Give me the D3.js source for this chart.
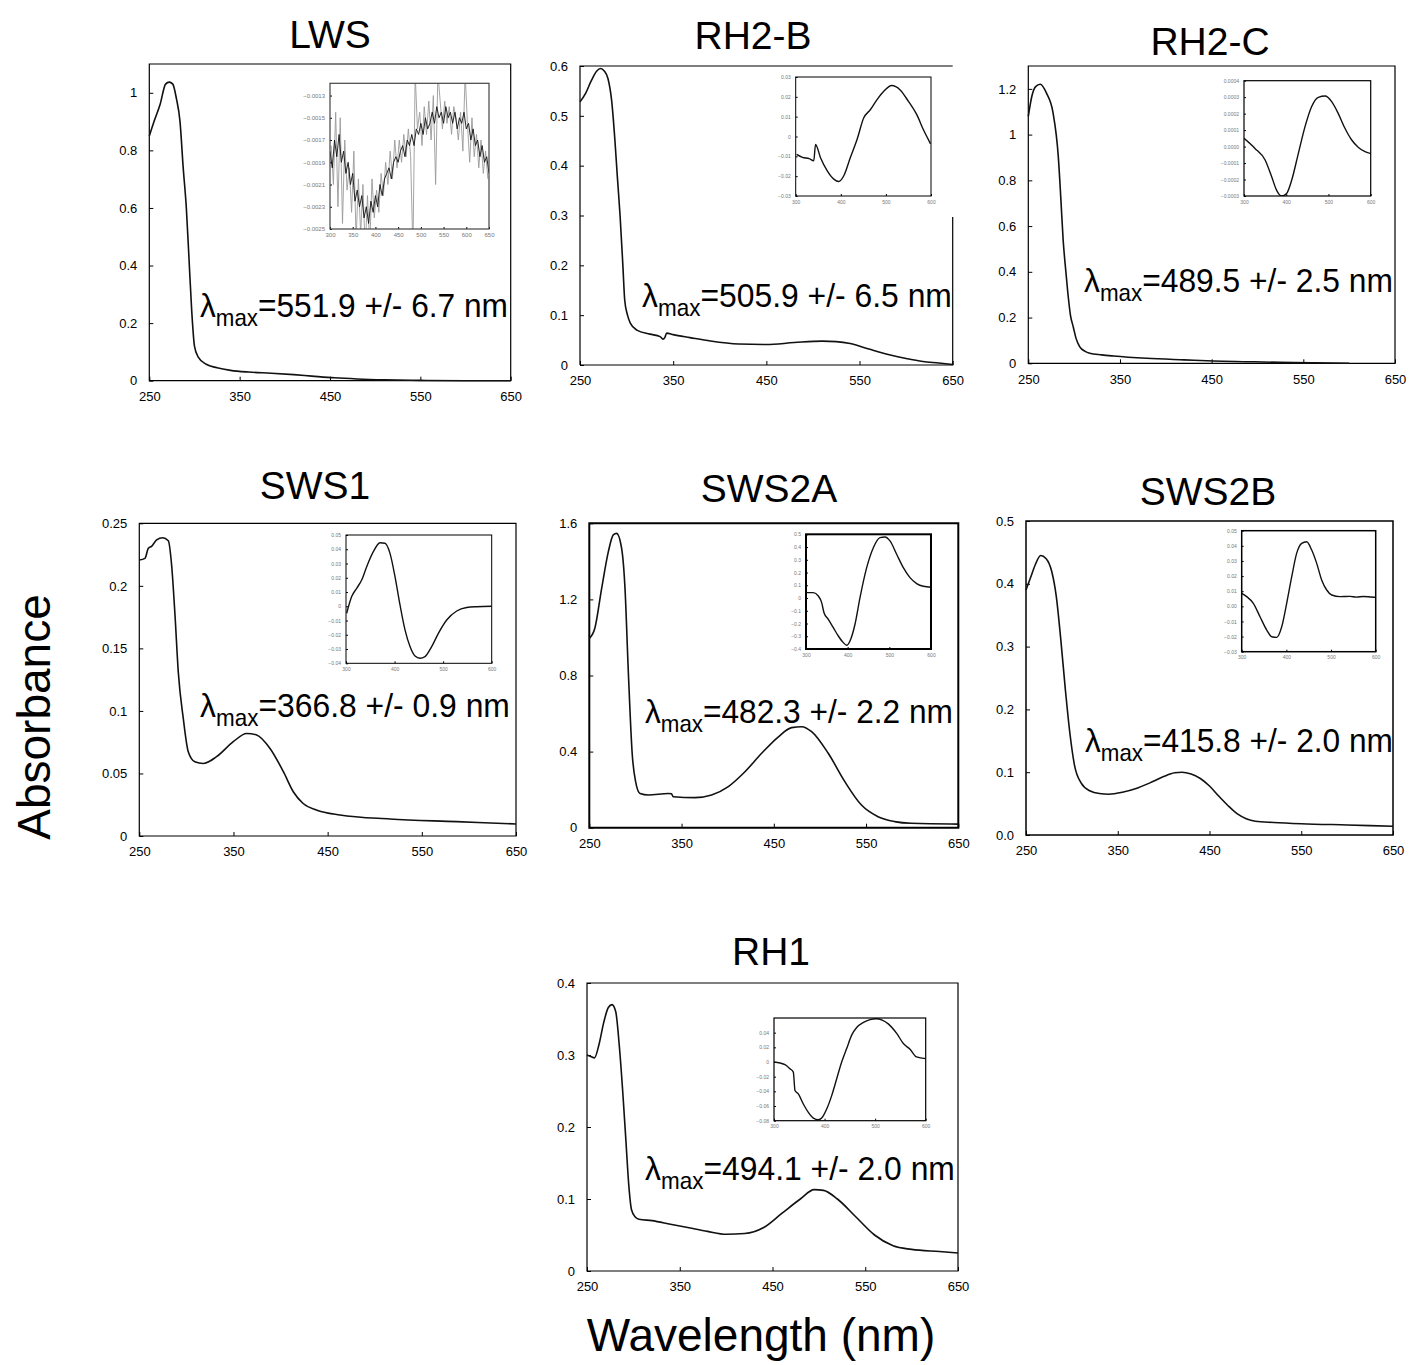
<!DOCTYPE html>
<html>
<head>
<meta charset="utf-8">
<script src="https://cdn.jsdelivr.net/npm/d3@7"></script>
<style>
body { margin: 0; background: #fff; }
text { font-family: "Liberation Sans", Arial, sans-serif; }
</style>
</head>
<body>
<svg id="chart" width="1414" height="1365"></svg>
<script>
// ---- spectra: [wavelength nm, absorbance] ----
var lwsMain = [[250,0.85],[256,0.907],[262,0.96],[268,1.03],[272,1.037],[276,1.03],[280,0.98],[284,0.9],[287.5,0.74],[291,0.6],[294,0.42],[297,0.24],[300,0.12],[304,0.083],[313,0.057],[325,0.045],[340,0.036],[360,0.03],[385,0.026],[410,0.021],[430,0.016],[455,0.01],[480,0.006],[510,0.003],[550,0.001],[600,0],[650,0]];
var rh2bMain = [[250,0.528],[256,0.545],[262,0.57],[268,0.59],[272,0.595],[276,0.59],[280,0.575],[284,0.53],[287.5,0.45],[290,0.38],[293,0.3],[296,0.2],[298,0.13],[301,0.1],[304,0.084],[311,0.07],[325,0.062],[336,0.057],[339,0.052],[341,0.055],[343,0.064],[350,0.061],[368,0.055],[390,0.048],[420,0.042],[450,0.041],[480,0.045],[510,0.048],[525,0.047],[540,0.043],[560,0.032],[583,0.02],[600,0.013],[618,0.007],[635,0.004],[650,0.001]];
var rh2cMain = [[250,1.08],[254,1.17],[258,1.21],[263,1.22],[270,1.18],[277,1.095],[282.7,0.905],[285.5,0.72],[288,0.54],[291,0.4],[293.6,0.29],[296,0.21],[299,0.16],[302,0.11],[306,0.073],[312,0.052],[317,0.044],[330,0.037],[343,0.032],[379,0.022],[420,0.015],[452,0.01],[490,0.007],[524.5,0.004],[560,0.002],[600,0]];
var sws1Main = [[250,0.2207],[256,0.222],[259.6,0.23],[263,0.2316],[268.4,0.2367],[274.8,0.2385],[280.8,0.236],[284.3,0.2167],[287.9,0.1767],[291.4,0.131],[296.7,0.094],[302,0.0674],[309,0.0594],[318,0.058],[332,0.0634],[349.8,0.0754],[364,0.082],[374.6,0.0808],[388.8,0.07],[403,0.0514],[413.5,0.0354],[424,0.026],[438,0.0208],[463,0.0168],[516,0.0136],[587,0.0115],[650,0.0096]];
var sws2aMain = [[250,0.995],[256,1.048],[263.4,1.258],[270.6,1.45],[276,1.539],[279.6,1.547],[285,1.469],[288.7,1.258],[292.3,0.82],[296.6,0.382],[300.2,0.242],[305,0.18],[314,0.172],[335.6,0.18],[339,0.178],[341,0.163],[364.5,0.158],[382.6,0.172],[400.7,0.216],[418.7,0.294],[436.8,0.391],[455,0.478],[469.3,0.526],[480.2,0.531],[491,0.505],[509,0.391],[527,0.242],[545,0.119],[563,0.058],[581,0.032],[599,0.023],[650,0.019]];
var sws2bMain = [[250,0.39],[255,0.41],[260,0.43],[266,0.445],[272,0.44],[278,0.42],[283,0.38],[288,0.31],[293,0.23],[298,0.16],[303,0.11],[310,0.083],[320,0.07],[330,0.066],[340,0.065],[355,0.068],[370,0.074],[385,0.083],[400,0.093],[412,0.099],[420,0.1],[430,0.097],[440,0.09],[450,0.078],[460,0.062],[470,0.047],[480,0.034],[490,0.026],[500,0.022],[520,0.02],[550,0.018],[600,0.016],[650,0.014]];
var rh1Main = [[250,0.3],[254,0.298],[258,0.296],[263,0.315],[268,0.345],[273,0.366],[277,0.37],[281,0.36],[285,0.31],[289,0.24],[292,0.18],[295,0.12],[298,0.085],[302,0.075],[306,0.072],[320,0.07],[340,0.065],[360,0.06],[380,0.055],[400,0.051],[420,0.052],[440,0.06],[460,0.08],[480,0.1],[495,0.113],[505,0.112],[520,0.1],[540,0.075],[560,0.05],[580,0.035],[600,0.03],[630,0.027],[650,0.025]];

// ---- inset difference spectra ----
var lwsDiffX = d3.range(300, 651, 5);
var lwsDiffBlack = [-18.0,-19.5,-17.0,-18.5,-16.5,-19.0,-18.0,-20.0,-19.0,-21.0,-20.0,-22.5,-21.5,-23.0,-22.0,-24.0,-23.0,-24.5,-22.5,-23.5,-22.0,-23.0,-21.0,-22.0,-20.5,-20.0,-19.5,-20.5,-19.0,-18.5,-19.0,-18.0,-17.5,-18.5,-17.0,-17.5,-16.5,-17.5,-16.0,-16.5,-15.5,-16.5,-15.0,-16.0,-15.5,-14.5,-15.5,-14.0,-15.0,-14.5,-15.5,-14.0,-15.0,-14.5,-15.5,-14.5,-16.0,-15.0,-15.5,-14.5,-16.0,-15.5,-17.0,-16.0,-17.5,-17.0,-18.5,-17.5,-19.0,-18.5,-20.0];
var lwsDiffGrayX = d3.range(302.5, 650, 5);
var lwsDiffGray = [-17.5,-21.0,-14.5,-23.0,-15.0,-24.5,-17.0,-21.5,-19.5,-23.5,-18.0,-26.0,-20.5,-25.5,-21.0,-27.0,-22.0,-26.5,-20.5,-24.0,-21.5,-23.5,-20.0,-22.0,-19.0,-21.0,-18.0,-20.5,-17.0,-19.5,-17.0,-19.0,-16.5,-18.5,-16.0,-18.5,-27.0,-11.0,-16.0,-14.5,-17.5,-14.0,-16.5,-13.5,-17.0,-13.0,-21.0,-11.0,-13.5,-16.0,-13.5,-15.5,-14.0,-16.5,-14.0,-15.0,-17.0,-14.5,-18.0,-11.0,-15.5,-19.0,-15.0,-18.5,-16.5,-19.5,-17.0,-20.0,-18.0,-20.5];
var rh2bDiff = [[302,-0.009],[315,-0.0105],[330,-0.0112],[340,-0.0123],[344,-0.004],[355,-0.0107],[370,-0.0173],[384.5,-0.0215],[395.6,-0.0227],[406.6,-0.0198],[421,-0.0107],[436,-0.0015],[450.7,0.0093],[465.4,0.0135],[480,0.0185],[494.8,0.0227],[513,0.0257],[531.6,0.0235],[550,0.0177],[568.5,0.011],[583,0.0035],[599,-0.0037]];
var rh2cDiff = [[300,0.00005],[326,-0.000011],[350,-0.0000815],[365.5,-0.000183],[377,-0.000264],[389,-0.0003],[401,-0.000284],[413,-0.000203],[428.7,-0.000041],[444.5,0.000121],[460,0.000242],[476,0.000299],[492,0.000307],[507.6,0.000273],[523,0.000202],[539,0.000111],[555,0.00004],[571,-0.000005],[586.6,-0.000031],[605,-0.000045]];
var sws1Diff = [[301.4,-0.0049],[311.7,0.0068],[322,0.0126],[332.3,0.0184],[342.6,0.0278],[356.3,0.0383],[370,0.0446],[380.3,0.0442],[390.6,0.0371],[400.9,0.0208],[411.2,0.0009],[421.5,-0.0166],[431.8,-0.0283],[442.1,-0.0349],[452.4,-0.0365],[462.7,-0.0353],[476.4,-0.0283],[490.2,-0.019],[507.3,-0.0096],[528,-0.0033],[548.5,-0.0009],[569,-0.0003],[600,0]];
var sws2aDiff = [[300,0.0422],[317.6,0.042],[329.6,0.016],[337.6,-0.0363],[343.2,-0.115],[353.6,-0.167],[365.6,-0.2326],[377.6,-0.298],[389.6,-0.35],[397.6,-0.371],[405.6,-0.337],[417.6,-0.206],[429.6,0.003],[445.6,0.238],[461.6,0.395],[477.6,0.474],[489.6,0.479],[501.6,0.448],[517.6,0.343],[533.6,0.238],[549.6,0.16],[565.6,0.113],[581.6,0.092],[604,0.084]];
var sws2bDiff = [[300,0.0086],[311.2,0.0064],[326.1,0.002],[341,-0.0069],[356,-0.0157],[367.2,-0.0201],[378.4,-0.0205],[389.6,-0.0135],[400.7,0.002],[412,0.0196],[423,0.035],[434.3,0.0416],[445.5,0.0427],[456.7,0.0372],[467.9,0.0284],[479,0.0174],[490.3,0.0108],[501.5,0.0075],[520,0.0064],[542.5,0.0066],[557,0.0061],[572.4,0.0065],[588,0.0062],[602,0.0059]];
var rh1Diff = [[300,0],[311.9,-0.0014],[321.8,-0.0037],[331.6,-0.0092],[338.2,-0.0137],[341.5,-0.0389],[348.1,-0.0435],[358,-0.0572],[367.9,-0.0686],[377.8,-0.0764],[387.7,-0.0787],[394.3,-0.0764],[404.2,-0.0641],[414.1,-0.0458],[424,-0.0229],[433.8,0],[443.7,0.0183],[453.6,0.0366],[463.5,0.047],[477,0.054],[490,0.0578],[502,0.059],[514,0.0572],[526,0.052],[542.6,0.039],[555.8,0.0252],[569,0.0174],[582,0.0069],[600,0.0046]];

// ---- tick labels ----
var wlTicks = [250, 350, 450, 550, 650];
var insetWlTicks = [300, 400, 500, 600];
var lwsInsetWlTicks = [300, 350, 400, 450, 500, 550, 600, 650];

var svg = d3.select("#chart");

var line = function(x, y) {
	return d3.line().x(function(d){ return x(d[0]); }).y(function(d){ return y(d[1]); }).curve(d3.curveMonotoneX);
};

var panels = [
	{ title: "LWS", main: lwsMain, box: [149.3, 64, 510.7, 380.7], yMax: 1.1, yTicks: [0,0.2,0.4,0.6,0.8,1], yFmt: d3.format(""),
	  titlePos: [330, 48], lambda: "=551.9 +/- 6.7 nm", lab: [200, 317, 308],
	  inset: { box: [330, 83.3, 489, 229], xDom: [300, 650], yDom: [-0.0025, -0.00119], xTicks: lwsInsetWlTicks,
	           yTicks: [-0.0025,-0.0023,-0.0021,-0.0019,-0.0017,-0.0015,-0.0013], fmt: d3.format(".4f"), font: 6, frame: 1.2 } },
	{ title: "RH2-B", main: rh2bMain, box: [580, 66, 952.7, 365], yMax: 0.6, yTicks: [0,0.1,0.2,0.3,0.4,0.5,0.6], yFmt: d3.format(""),
	  titlePos: [753, 49], lambda: "=505.9 +/- 6.5 nm", lab: [642, 307, 310], rightFrom: 217,
	  inset: { box: [795.7, 77, 931, 196], xDom: [300, 600], yDom: [-0.03, 0.03], xTicks: insetWlTicks,
	           yTicks: [-0.03,-0.02,-0.01,0,0.01,0.02,0.03], fmt: d3.format(""), font: 5, frame: 1 } },
	{ title: "RH2-C", main: rh2cMain, box: [1028.3, 66, 1395, 363.3], yMax: 1.3, yTicks: [0,0.2,0.4,0.6,0.8,1,1.2], yFmt: d3.format(""),
	  titlePos: [1210, 55], lambda: "=489.5 +/- 2.5 nm", lab: [1084, 292, 309],
	  inset: { box: [1244, 80.7, 1370.7, 196], xDom: [300, 600], yDom: [-0.0003, 0.0004], xTicks: insetWlTicks,
	           yTicks: [-0.0003,-0.0002,-0.0001,0,0.0001,0.0002,0.0003,0.0004], fmt: d3.format(".4f"), font: 5, frame: 1.2 } },
	{ title: "SWS1", main: sws1Main, box: [139.3, 523.3, 516, 836], yMax: 0.25, yTicks: [0,0.05,0.1,0.15,0.2,0.25], yFmt: d3.format(""),
	  titlePos: [315, 499], lambda: "=366.8 +/- 0.9 nm", lab: [200, 717, 310],
	  inset: { box: [346, 535, 491.7, 663.3], xDom: [300, 600], yDom: [-0.04, 0.05], xTicks: insetWlTicks,
	           yTicks: [-0.04,-0.03,-0.02,-0.01,0,0.01,0.02,0.03,0.04,0.05], fmt: d3.format(""), font: 5, frame: 1 } },
	{ title: "SWS2A", main: sws2aMain, box: [589.3, 523.3, 958.3, 827.7], yMax: 1.6, yTicks: [0,0.4,0.8,1.2,1.6], yFmt: d3.format(""),
	  titlePos: [769, 502], lambda: "=482.3 +/- 2.2 nm", lab: [645, 723, 308], frame: 2,
	  inset: { box: [806, 534.3, 931, 649], xDom: [300, 600], yDom: [-0.4, 0.5], xTicks: insetWlTicks,
	           yTicks: [-0.4,-0.3,-0.2,-0.1,0,0.1,0.2,0.3,0.4,0.5], fmt: d3.format(""), font: 5, frame: 2 } },
	{ title: "SWS2B", main: sws2bMain, box: [1026, 521, 1393, 835], yMax: 0.5, yTicks: [0,0.1,0.2,0.3,0.4,0.5], yFmt: d3.format(".1f"),
	  titlePos: [1208, 505], lambda: "=415.8 +/- 2.0 nm", lab: [1085, 752, 308], frame: 1.5,
	  inset: { box: [1241.7, 530.7, 1375.7, 651.7], xDom: [300, 600], yDom: [-0.03, 0.05], xTicks: insetWlTicks,
	           yTicks: [-0.03,-0.02,-0.01,0,0.01,0.02,0.03,0.04,0.05], fmt: d3.format(".2f"), font: 5, frame: 1.5 } },
	{ title: "RH1", main: rh1Main, box: [587, 983, 958, 1271], yMax: 0.4, yTicks: [0,0.1,0.2,0.3,0.4], yFmt: d3.format(""),
	  titlePos: [771, 965], lambda: "=494.1 +/- 2.0 nm", lab: [645, 1180, 310],
	  inset: { box: [774, 1018, 925.7, 1120.7], xDom: [300, 600], yDom: [-0.08, 0.06], xTicks: insetWlTicks,
	           yTicks: [-0.08,-0.06,-0.04,-0.02,0,0.02,0.04], fmt: d3.format(""), font: 5, frame: 1.2 } }
];

// inset series for each panel (in the same order)
var insetSeries = [
	[{ data: lwsDiffGrayX.map(function(w,i){ return [w, lwsDiffGray[i] * 1e-4]; }), color: "#9a9a9a" },
	 { data: lwsDiffX.map(function(w,i){ return [w, lwsDiffBlack[i] * 1e-4]; }), color: "#111" }],
	[{ data: rh2bDiff, color: "#111" }],
	[{ data: rh2cDiff, color: "#111" }],
	[{ data: sws1Diff, color: "#111" }],
	[{ data: sws2aDiff, color: "#111" }],
	[{ data: sws2bDiff, color: "#111" }],
	[{ data: rh1Diff, color: "#111" }]
];

function styleAxis(a, size, color) {
	a.select(".domain").remove();
	a.selectAll("text").attr("font-size", size).attr("font-family", "Liberation Sans, Arial, sans-serif").attr("fill", color);
	a.selectAll("line").attr("stroke", "#000");
}

panels.forEach(function(p, idx) {

	var g = svg.append("g").attr("class", "panel");
	var x0 = p.box[0], y0 = p.box[1], x1 = p.box[2], y1 = p.box[3];

	var x = d3.scaleLinear().domain([250, 650]).range([x0, x1]);
	var y = d3.scaleLinear().domain([0, p.yMax]).range([y1, y0]);

	// frame
	var fd = p.rightFrom
		? "M" + x0 + "," + y1 + "V" + y0 + "H" + x1 + "M" + x1 + "," + p.rightFrom + "V" + y1 + "H" + x0
		: "M" + x0 + "," + y0 + "H" + x1 + "V" + y1 + "H" + x0 + "Z";
	g.append("path").attr("d", fd).attr("fill", "none").attr("stroke", "#000").attr("stroke-width", p.frame || 1.2);

	g.append("g")
		.attr("transform", "translate(0," + y1 + ")")
		.call(d3.axisBottom(x).tickValues(wlTicks).tickSize(-4).tickPadding(11).tickFormat(d3.format("d")))
		.call(function(a){ styleAxis(a, 13, "#000"); });

	g.append("g")
		.attr("transform", "translate(" + x0 + ",0)")
		.call(d3.axisLeft(y).tickValues(p.yTicks).tickSize(-4).tickPadding(12).tickFormat(p.yFmt))
		.call(function(a){ styleAxis(a, 13, "#000"); });

	g.append("path")
		.datum(p.main)
		.attr("d", line(x, y))
		.attr("fill", "none")
		.attr("stroke", "#111")
		.attr("stroke-width", 1.6);

	// title
	g.append("text")
		.attr("x", p.titlePos[0])
		.attr("y", p.titlePos[1])
		.attr("text-anchor", "middle")
		.attr("font-size", 39)
		.text(p.title);

	// lambda max label, squeezed to the width it has in the figure
	var t = g.append("text").attr("font-size", 34).attr("fill", "#000");
	t.append("tspan").text("λ");
	t.append("tspan").attr("font-size", 24).attr("dy", 9).text("max");
	t.append("tspan").attr("dy", -9).text(p.lambda);
	var w = t.node().getBBox().width;
	t.attr("transform", "translate(" + p.lab[0] + "," + p.lab[1] + ") scale(" + (p.lab[2] / w) + ",1)");

	// inset
	var ins = p.inset;
	var ix = d3.scaleLinear().domain(ins.xDom).range([ins.box[0], ins.box[2]]);
	var iy = d3.scaleLinear().domain(ins.yDom).range([ins.box[3], ins.box[1]]);
	var ig = g.append("g").attr("class", "inset");

	ig.append("rect")
		.attr("x", ins.box[0]).attr("y", ins.box[1])
		.attr("width", ins.box[2] - ins.box[0]).attr("height", ins.box[3] - ins.box[1])
		.attr("fill", "#fff");

	var clipId = "clip" + idx;
	ig.append("clipPath").attr("id", clipId).append("rect")
		.attr("x", ins.box[0]).attr("y", ins.box[1])
		.attr("width", ins.box[2] - ins.box[0]).attr("height", ins.box[3] - ins.box[1]);

	ig.append("g")
		.attr("transform", "translate(0," + ins.box[3] + ")")
		.call(d3.axisBottom(ix).tickValues(ins.xTicks).tickSize(-2).tickPadding(4).tickFormat(d3.format("d")))
		.call(function(a){ styleAxis(a, ins.font, "#777"); });

	ig.append("g")
		.attr("transform", "translate(" + ins.box[0] + ",0)")
		.call(d3.axisLeft(iy).tickValues(ins.yTicks).tickSize(-2).tickPadding(5).tickFormat(ins.fmt))
		.call(function(a){ styleAxis(a, ins.font, "#777"); });

	insetSeries[idx].forEach(function(s) {
		ig.append("path")
			.datum(s.data)
			.attr("clip-path", "url(#" + clipId + ")")
			.attr("d", idx === 0
				? d3.line().x(function(d){ return ix(d[0]); }).y(function(d){ return iy(d[1]); })(s.data)
				: line(ix, iy)(s.data))
			.attr("fill", "none")
			.attr("stroke", s.color)
			.attr("stroke-width", idx === 0 ? 0.9 : 1.4);
	});

	ig.append("rect")
		.attr("x", ins.box[0]).attr("y", ins.box[1])
		.attr("width", ins.box[2] - ins.box[0]).attr("height", ins.box[3] - ins.box[1])
		.attr("fill", "none")
		.attr("stroke", idx === 0 ? "#444" : "#000")
		.attr("stroke-width", ins.frame);
});

// shared axis titles
svg.append("text")
	.attr("transform", "translate(50,717) rotate(-90)")
	.attr("text-anchor", "middle")
	.attr("font-size", 46)
	.text("Absorbance");

svg.append("text")
	.attr("x", 761)
	.attr("y", 1351)
	.attr("text-anchor", "middle")
	.attr("font-size", 46)
	.text("Wavelength (nm)");
</script>
</body>
</html>
